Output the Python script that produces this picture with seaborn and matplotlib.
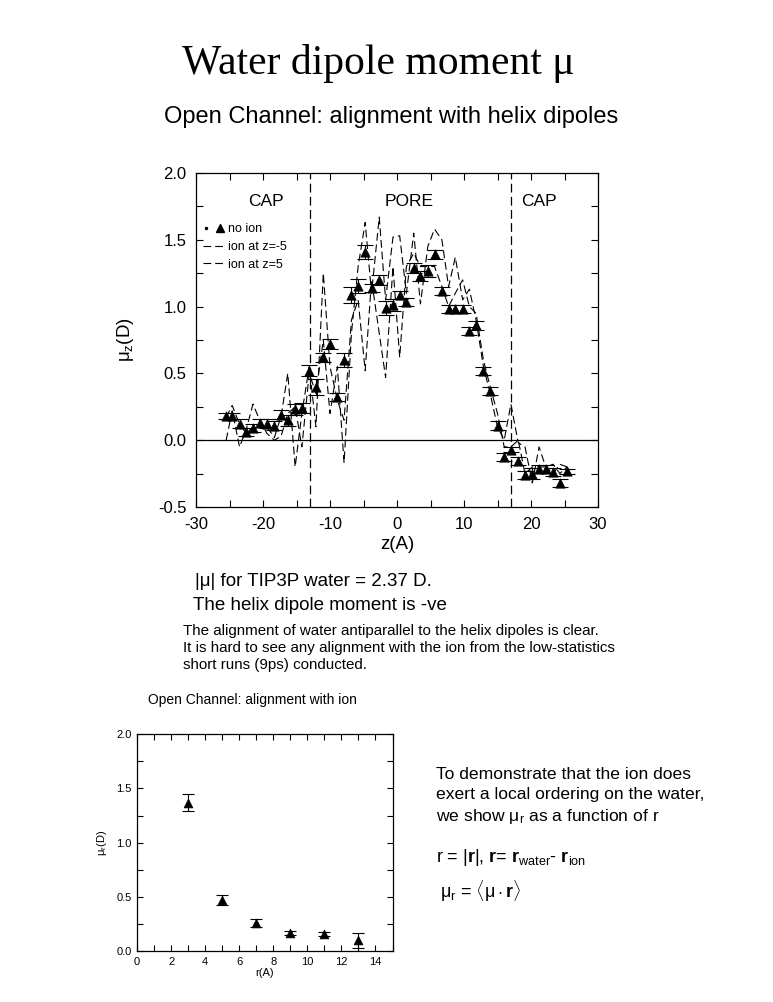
import matplotlib
matplotlib.use("Agg")
import matplotlib.pyplot as plt
import seaborn as sns
import numpy as np
import pandas as pd
from matplotlib.lines import Line2D
from matplotlib.legend_handler import HandlerTuple
from matplotlib.ticker import MultipleLocator, FormatStrFormatter

# ---- top panel data: mu_z along channel axis ----
z_noion = [-25.5, -24.6, -23.5, -22.5, -21.5, -20.4, -19.4, -18.3, -17.3, -16.3,
           -15.2, -14.2, -13.1, -12.1, -11.0, -10.0, -8.9, -7.9, -6.8, -5.8,
           -4.75, -3.8, -2.65, -1.7, -0.6, 0.4, 1.4, 2.5, 3.5, 4.6,
           5.6, 6.7, 7.7, 8.7, 9.8, 10.8, 11.8, 12.9, 13.9, 15.0,
           16.0, 17.0, 18.1, 19.1, 20.2, 21.2, 22.2, 23.3, 24.3, 25.4]
mu_noion = [0.18, 0.18, 0.125, 0.06, 0.09, 0.13, 0.125, 0.11, 0.19, 0.15,
            0.23, 0.24, 0.52, 0.40, 0.62, 0.72, 0.32, 0.60, 1.09, 1.155,
            1.41, 1.14, 1.20, 0.99, 1.01, 1.085, 1.035, 1.29, 1.23, 1.27,
            1.39, 1.115, 0.985, 0.985, 0.985, 0.82, 0.86, 0.52, 0.37, 0.11,
            -0.125, -0.07, -0.157, -0.26, -0.25, -0.217, -0.217, -0.237, -0.32, -0.232]
err_noion = [0.02, 0.02, 0.03, 0.03, 0.03, 0.03, 0.03, 0.03, 0.035, 0.04,
             0.04, 0.04, 0.04, 0.06, 0.035, 0.04, 0.03, 0.05, 0.06, 0.055,
             0.05, 0.03, 0.035, 0.05, 0.045, 0.03, 0.03, 0.035, 0.035, 0.045,
             0.035, 0.03, 0.03, 0.03, 0.03, 0.03, 0.035, 0.03, 0.03, 0.035,
             0.03, 0.02, 0.03, 0.03, 0.04, 0.03, 0.03, 0.03, 0.03, 0.02]
mu_ion_m5 = [0.0, 0.22, -0.05, 0.08, 0.27, 0.14, 0.05, 0.0, 0.03, 0.2,
             0.25, -0.05, 0.5, 0.35, 0.75, 0.2, 0.55, -0.17, 0.8, 1.3,
             1.63, 1.1, 1.67, 1.05, 1.52, 1.53, 1.1, 1.55, 1.02, 1.45,
             1.58, 1.5, 1.15, 1.37, 1.05, 1.13, 0.9, 0.55, 0.35, 0.1,
             0.0, 0.27, -0.02, -0.05, -0.32, -0.05, -0.2, -0.25, -0.18, -0.2]
mu_ion_p5 = [0.17, 0.26, 0.12, 0.05, 0.1, 0.12, 0.1, 0.02, 0.18, 0.5,
             -0.2, 0.2, 0.55, 0.1, 1.25, 0.55, 0.3, 0.15, 0.9, 1.05,
             0.52, 1.2, 0.8, 0.47, 1.3, 0.62, 1.3, 1.4, 1.3, 1.3,
             1.3, 1.15, 1.0, 1.1, 1.2, 1.0, 0.95, 0.6, 0.4, 0.2,
             -0.05, -0.05, 0.0, -0.25, -0.2, -0.2, -0.2, -0.18, -0.25, -0.2]
boundaries = [-13, 17]
region_names = ["CAP", "PORE", "CAP"]
region_z = [-19.5, 1.8, 21.2]

# ---- bottom panel data: mu_r vs distance from ion ----
r_vals = [3, 5, 7, 9, 11, 13]
mu_r = [1.37, 0.47, 0.26, 0.165, 0.157, 0.10]
err_r = [0.075, 0.045, 0.035, 0.02, 0.02, 0.07]

sns.set_style("ticks")
plt.rcParams['font.family'] = ['Liberation Sans', 'DejaVu Sans']
plt.rcParams['mathtext.fontset'] = 'custom'
plt.rcParams['mathtext.rm'] = 'Liberation Sans'
plt.rcParams['mathtext.it'] = 'Liberation Sans'
plt.rcParams['mathtext.bf'] = 'Liberation Sans:bold'
plt.rcParams['axes.unicode_minus'] = False
for key in ['text.color', 'axes.labelcolor', 'xtick.color', 'ytick.color', 'axes.edgecolor']:
    plt.rcParams[key] = 'black'

DASH = (0, (7, 3.5))

fig = plt.figure(figsize=(7.73, 10.02), dpi=100)

fig.text(0.490, 0.937, "Water dipole moment μ", family=['Liberation Serif', 'DejaVu Serif'],
         fontsize=30, ha='center', va='center')
fig.text(0.506, 0.883, "Open Channel: alignment with helix dipoles", fontsize=17,
         ha='center', va='center')

# ---------------- top axes ----------------
ax = fig.add_axes([196 / 773, 1 - 507 / 1002, 402 / 773, 334 / 1002])
df_ion = pd.DataFrame({"z": z_noion + z_noion,
                       "mu": mu_ion_m5 + mu_ion_p5,
                       "run": ["ion at z=-5"] * len(z_noion) + ["ion at z=5"] * len(z_noion)})
sns.lineplot(data=df_ion, x="z", y="mu", units="run", estimator=None, color="black",
             lw=0.8, dashes=False, ax=ax, legend=False, linestyle=DASH)
ax.errorbar(z_noion, mu_noion, yerr=err_noion, fmt='none', ecolor='black',
            elinewidth=0.8, capsize=6, capthick=0.8)
sns.scatterplot(x=z_noion, y=mu_noion, marker='^', color='black', s=45,
                edgecolor='black', linewidth=0.5, ax=ax, zorder=3)
ax.axhline(0, color='black', lw=0.9)
for b in boundaries:
    ax.axvline(b, color='black', lw=0.9, linestyle=DASH)
for name, zc in zip(region_names, region_z):
    ax.text(zc, 1.79, name, fontsize=12.5, ha='center', va='center')

ax.set_xlim(-30, 30)
ax.set_ylim(-0.5, 2.0)
ax.xaxis.set_major_locator(MultipleLocator(10))
ax.xaxis.set_minor_locator(MultipleLocator(5))
ax.yaxis.set_major_locator(MultipleLocator(0.5))
ax.yaxis.set_minor_locator(MultipleLocator(0.25))
ax.yaxis.set_major_formatter(FormatStrFormatter('%.1f'))
ax.tick_params(which='both', direction='in', top=True, right=True, length=5,
               width=0.8, labelsize=12, pad=7)
for s in ax.spines.values():
    s.set_linewidth(0.9)
ax.set_xlabel("z(A)", fontsize=13.5, labelpad=3)
ax.set_ylabel(r"$\mu_z$(D)", fontsize=13.5, labelpad=16)

h_noion = (Line2D([], [], marker='.', color='black', ls='none', markersize=3),
           Line2D([], [], marker='^', color='black', ls='none', markersize=6))
h_m5 = Line2D([], [], color='black', lw=0.8, ls=DASH)
h_p5 = Line2D([], [], color='black', lw=0.8, ls=DASH)
ax.legend([h_noion, h_m5, h_p5], ["no ion", "ion at z=-5", "ion at z=5"],
          handler_map={tuple: HandlerTuple(ndivide=None, pad=0.5)},
          loc='upper left', bbox_to_anchor=(-0.005, 0.875), frameon=False, fontsize=9,
          handlelength=1.7, handletextpad=0.35, labelspacing=0.45, borderaxespad=0.3)

# ---------------- text blocks ----------------
fig.text(195 / 773, 1 - 582 / 1002, "|μ| for TIP3P water = 2.37 D.", fontsize=13.5, va='center')
fig.text(193 / 773, 1 - 606 / 1002, "The helix dipole moment is -ve", fontsize=13.5, va='center')
para = ("The alignment of water antiparallel to the helix dipoles is clear.\n"
        "It is hard to see any alignment with the ion from the low-statistics\n"
        "short runs (9ps) conducted.")
fig.text(183 / 773, 1 - 624 / 1002, para, fontsize=10.9, va='top', linespacing=1.27)
fig.text(148 / 773, 1 - 700 / 1002, "Open Channel: alignment with ion", fontsize=10, va='center')

right = ("To demonstrate that the ion does\n"
         "exert a local ordering on the water,\n"
         r"we show $\mu_r$ as a function of r")
fig.text(436 / 773, 1 - 767 / 1002, right, fontsize=12.6, va='top', linespacing=1.38)
fig.text(436 / 773, 1 - 858 / 1002,
         r"r = |$\mathbf{r}$|, $\mathbf{r}$= $\mathbf{r}_{\rm water}$- $\mathbf{r}_{\rm ion}$",
         fontsize=13, va='center')
fig.text(440 / 773, 1 - 891 / 1002, r"$\mu_r$ = $\langle\mu\cdot\mathbf{r}\rangle$",
         fontsize=13, va='center')

# ---------------- bottom axes ----------------
ax2 = fig.add_axes([137 / 773, 1 - 951 / 1002, 255.5 / 773, 216.7 / 1002])
ax2.errorbar(r_vals, mu_r, yerr=err_r, fmt='none', ecolor='black', elinewidth=0.8,
             capsize=4, capthick=0.8)
sns.scatterplot(x=r_vals, y=mu_r, marker='^', color='black', s=40, edgecolor='black',
                linewidth=0.5, ax=ax2, zorder=3)
ax2.set_xlim(0, 15)
ax2.set_ylim(0, 2.0)
ax2.xaxis.set_major_locator(MultipleLocator(2))
ax2.xaxis.set_minor_locator(MultipleLocator(1))
ax2.yaxis.set_major_locator(MultipleLocator(0.5))
ax2.yaxis.set_minor_locator(MultipleLocator(0.25))
ax2.yaxis.set_major_formatter(FormatStrFormatter('%.1f'))
ax2.tick_params(which='both', direction='in', top=True, right=True, length=4,
                width=0.8, labelsize=8, pad=4)
for s in ax2.spines.values():
    s.set_linewidth(0.9)
ax2.set_xlabel("r(A)", fontsize=8, labelpad=1)
ax2.set_ylabel(r"$\mu_r$(D)", fontsize=8, labelpad=5)

fig.savefig("out.png", dpi=100)
